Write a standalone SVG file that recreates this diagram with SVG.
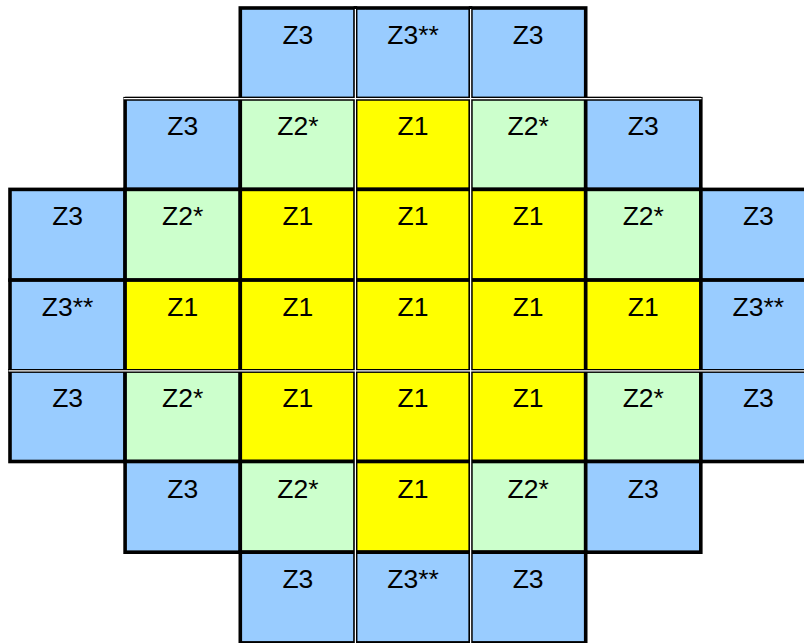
<svg xmlns="http://www.w3.org/2000/svg" width="804" height="643" viewBox="0 0 804 643">
<style>
rect{stroke:#000;stroke-width:3.6}
.b{fill:#99CCFF}.g{fill:#CCFFCC}.y{fill:#FFFF00}
text{font-family:"Liberation Sans",Arial,sans-serif;font-size:26.5px;fill:#000;text-anchor:middle}
.dl{stroke:#000;stroke-width:3.8;fill:none}
.wl{stroke:#fff;stroke-width:1.2;fill:none}
</style>
<rect x="0" y="0" width="804" height="643" style="fill:#fff;stroke:none"/>
<g id="cells">
<g id="r1c3"><rect class="b" x="240.3" y="8" width="115.1" height="90.7"/><text x="297.9" y="44">Z3</text></g>
<g id="r1c4"><rect class="b" x="355.4" y="8" width="115.1" height="90.7"/><text x="413" y="44">Z3**</text></g>
<g id="r1c5"><rect class="b" x="470.6" y="8" width="115.1" height="90.7"/><text x="528.1" y="44">Z3</text></g>

<g id="r2c2"><rect class="b" x="125.1" y="98.7" width="115.1" height="90.7"/><text x="182.7" y="134.7">Z3</text></g>
<g id="r2c3"><rect class="g" x="240.3" y="98.7" width="115.1" height="90.7"/><text x="297.9" y="134.7">Z2*</text></g>
<g id="r2c4"><rect class="y" x="355.4" y="98.7" width="115.1" height="90.7"/><text x="413" y="134.7">Z1</text></g>
<g id="r2c5"><rect class="g" x="470.6" y="98.7" width="115.1" height="90.7"/><text x="528.1" y="134.7">Z2*</text></g>
<g id="r2c6"><rect class="b" x="585.7" y="98.7" width="115.1" height="90.7"/><text x="643.3" y="134.7">Z3</text></g>

<g id="r3c1"><rect class="b" x="10" y="189.4" width="115.1" height="90.7"/><text x="67.6" y="225.4">Z3</text></g>
<g id="r3c2"><rect class="g" x="125.1" y="189.4" width="115.1" height="90.7"/><text x="182.7" y="225.4">Z2*</text></g>
<g id="r3c3"><rect class="y" x="240.3" y="189.4" width="115.1" height="90.7"/><text x="297.9" y="225.4">Z1</text></g>
<g id="r3c4"><rect class="y" x="355.4" y="189.4" width="115.1" height="90.7"/><text x="413" y="225.4">Z1</text></g>
<g id="r3c5"><rect class="y" x="470.6" y="189.4" width="115.1" height="90.7"/><text x="528.1" y="225.4">Z1</text></g>
<g id="r3c6"><rect class="g" x="585.7" y="189.4" width="115.1" height="90.7"/><text x="643.3" y="225.4">Z2*</text></g>
<g id="r3c7"><rect class="b" x="700.9" y="189.4" width="115.1" height="90.7"/><text x="758.4" y="225.4">Z3</text></g>

<g id="r4c1"><rect class="b" x="10" y="280.1" width="115.1" height="90.7"/><text x="67.6" y="316.1">Z3**</text></g>
<g id="r4c2"><rect class="y" x="125.1" y="280.1" width="115.1" height="90.7"/><text x="182.7" y="316.1">Z1</text></g>
<g id="r4c3"><rect class="y" x="240.3" y="280.1" width="115.1" height="90.7"/><text x="297.9" y="316.1">Z1</text></g>
<g id="r4c4"><rect class="y" x="355.4" y="280.1" width="115.1" height="90.7"/><text x="413" y="316.1">Z1</text></g>
<g id="r4c5"><rect class="y" x="470.6" y="280.1" width="115.1" height="90.7"/><text x="528.1" y="316.1">Z1</text></g>
<g id="r4c6"><rect class="y" x="585.7" y="280.1" width="115.1" height="90.7"/><text x="643.3" y="316.1">Z1</text></g>
<g id="r4c7"><rect class="b" x="700.9" y="280.1" width="115.1" height="90.7"/><text x="758.4" y="316.1">Z3**</text></g>

<g id="r5c1"><rect class="b" x="10" y="370.8" width="115.1" height="90.7"/><text x="67.6" y="406.8">Z3</text></g>
<g id="r5c2"><rect class="g" x="125.1" y="370.8" width="115.1" height="90.7"/><text x="182.7" y="406.8">Z2*</text></g>
<g id="r5c3"><rect class="y" x="240.3" y="370.8" width="115.1" height="90.7"/><text x="297.9" y="406.8">Z1</text></g>
<g id="r5c4"><rect class="y" x="355.4" y="370.8" width="115.1" height="90.7"/><text x="413" y="406.8">Z1</text></g>
<g id="r5c5"><rect class="y" x="470.6" y="370.8" width="115.1" height="90.7"/><text x="528.1" y="406.8">Z1</text></g>
<g id="r5c6"><rect class="g" x="585.7" y="370.8" width="115.1" height="90.7"/><text x="643.3" y="406.8">Z2*</text></g>
<g id="r5c7"><rect class="b" x="700.9" y="370.8" width="115.1" height="90.7"/><text x="758.4" y="406.8">Z3</text></g>

<g id="r6c2"><rect class="b" x="125.1" y="461.5" width="115.1" height="90.7"/><text x="182.7" y="497.5">Z3</text></g>
<g id="r6c3"><rect class="g" x="240.3" y="461.5" width="115.1" height="90.7"/><text x="297.9" y="497.5">Z2*</text></g>
<g id="r6c4"><rect class="y" x="355.4" y="461.5" width="115.1" height="90.7"/><text x="413" y="497.5">Z1</text></g>
<g id="r6c5"><rect class="g" x="470.6" y="461.5" width="115.1" height="90.7"/><text x="528.1" y="497.5">Z2*</text></g>
<g id="r6c6"><rect class="b" x="585.7" y="461.5" width="115.1" height="90.7"/><text x="643.3" y="497.5">Z3</text></g>

<g id="r7c3"><rect class="b" x="240.3" y="552.2" width="115.1" height="90.7"/><text x="297.9" y="588.2">Z3</text></g>
<g id="r7c4"><rect class="b" x="355.4" y="552.2" width="115.1" height="90.7"/><text x="413" y="588.2">Z3**</text></g>
<g id="r7c5"><rect class="b" x="470.6" y="552.2" width="115.1" height="90.7"/><text x="528.1" y="588.2">Z3</text></g>
</g>
<g id="lines">
<path class="dl" d="M355.4 8V643M470.6 8V643M125.1 98.7H700.9M10 370.8H804"/>
<path class="wl" d="M355.4 9V643M470.6 9V643M123.6 98.7H701.5M8.5 370.8H804"/>
</g>
</svg>
